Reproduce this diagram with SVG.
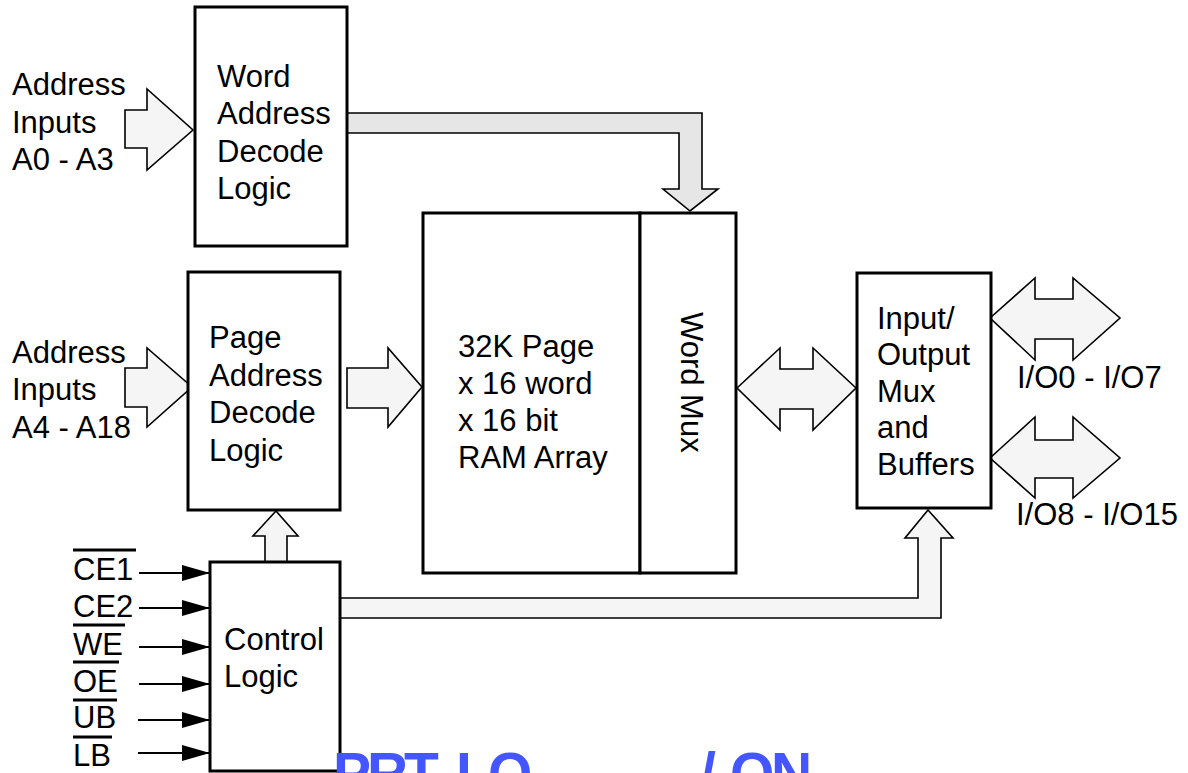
<svg xmlns="http://www.w3.org/2000/svg" width="1188" height="773" viewBox="0 0 1188 773">
<defs>
<style>
.box{fill:#fff;stroke:#000;stroke-width:3}
.bus{fill:#f5f5f5;stroke:#000;stroke-width:1.6;stroke-linejoin:miter}
.bus2{fill:#e6e6e6;stroke:#000;stroke-width:1.6}
.sig{stroke:#000;stroke-width:2;fill:none}
.ov{stroke:#000;stroke-width:3}
text{font-family:"Liberation Sans",Arial,sans-serif;font-size:31px;fill:#000}
.wm{font-family:"Liberation Sans",Arial,sans-serif;font-weight:bold;font-size:57px;fill:#4356ff}
</style>
<marker id="ah" markerWidth="28" markerHeight="16" refX="28" refY="8" orient="auto" markerUnits="userSpaceOnUse">
<path d="M0,0 L28,8 L0,16 Z" fill="#000"/>
</marker>
</defs>
<rect width="1188" height="773" fill="#fff"/>

<g id="connectors">
<polygon class="bus" points="125,110 147,110 147,89 193,130 147,170 147,148 125,148"/>
<polygon class="bus" points="125,368 147,368 147,348 192,387 147,427 147,407 125,407"/>
<polygon class="bus" points="347,368 388,368 388,348 422,387 388,427 388,408 347,408"/>
<polygon class="bus2" points="347,113 702,113 702,189 718,189 690,211 663,189 679,189 679,133 347,133"/>
<polygon class="bus" points="737,388 780,348 780,369 813,369 813,348 856,388 813,430 813,409 780,409 780,430"/>
<polygon class="bus" points="990,318 1035,278 1035,299 1073,299 1073,278 1120,318 1073,360 1073,339 1035,339 1035,360"/>
<polygon class="bus" points="990,458 1035,417 1035,440 1073,440 1073,417 1120,458 1073,498 1073,478 1035,478 1035,498"/>
<polygon class="bus" points="265,562 265,536 253,536 276,511 298,536 287,536 287,562"/>
<polygon class="bus" points="340,598 918,598 918,538 905,538 928,510 953,538 941,538 941,618 340,618"/>
<line class="sig" x1="139" y1="573" x2="210" y2="573" marker-end="url(#ah)"/>
<line class="sig" x1="139" y1="608" x2="210" y2="608" marker-end="url(#ah)"/>
<line class="sig" x1="139" y1="647" x2="210" y2="647" marker-end="url(#ah)"/>
<line class="sig" x1="139" y1="684" x2="210" y2="684" marker-end="url(#ah)"/>
<line class="sig" x1="138" y1="720" x2="210" y2="720" marker-end="url(#ah)"/>
<line class="sig" x1="138" y1="753" x2="210" y2="753" marker-end="url(#ah)"/>
</g>

<g id="inputs-a0-a3">
<text x="12" y="95">Address</text>
<text x="12" y="133">Inputs</text>
<text x="12" y="170">A0 - A3</text>
</g>
<g id="inputs-a4-a18">
<text x="12" y="363">Address</text>
<text x="12" y="400">Inputs</text>
<text x="12" y="438">A4 - A18</text>
</g>

<g id="word-decode">
<rect class="box" x="195" y="7" width="152" height="239"/>
<text x="217" y="87">Word</text>
<text x="217" y="124">Address</text>
<text x="217" y="162">Decode</text>
<text x="217" y="199">Logic</text>
</g>

<g id="page-decode">
<rect class="box" x="188" y="272" width="152" height="238"/>
<text x="209" y="348">Page</text>
<text x="209" y="386">Address</text>
<text x="209" y="423">Decode</text>
<text x="209" y="461">Logic</text>
</g>

<g id="ram-array">
<rect class="box" x="423" y="213" width="217" height="360"/>
<text x="458" y="357">32K Page</text>
<text x="458" y="394">x 16 word</text>
<text x="458" y="431">x 16 bit</text>
<text x="458" y="468">RAM Array</text>
</g>

<g id="word-mux">
<rect class="box" x="640" y="213" width="96" height="360"/>
<text transform="translate(681,312) rotate(90)">Word Mux</text>
</g>

<g id="io-mux">
<rect class="box" x="857" y="273" width="134" height="235"/>
<text x="877" y="329">Input/</text>
<text x="877" y="365">Output</text>
<text x="877" y="402">Mux</text>
<text x="877" y="438">and</text>
<text x="877" y="475">Buffers</text>
</g>

<g id="io-labels">
<text x="1017" y="388">I/O0 - I/O7</text>
<text x="1016" y="525">I/O8 - I/O15</text>
</g>

<g id="control-logic">
<rect class="box" x="210" y="562" width="130" height="209"/>
<text x="224" y="650">Control</text>
<text x="224" y="687">Logic</text>
</g>

<g id="control-signals">
<text x="73" y="580">CE1</text>
<line class="ov" x1="73" y1="550" x2="136" y2="550"/>
<text x="73" y="617">CE2</text>
<text x="73" y="655">WE</text>
<line class="ov" x1="73" y1="625" x2="125" y2="625"/>
<text x="73" y="692">OE</text>
<line class="ov" x1="73" y1="662" x2="119" y2="662"/>
<text x="73" y="728">UB</text>
<line class="ov" x1="73" y1="700" x2="117" y2="700"/>
<text x="73" y="766">LB</text>
<line class="ov" x1="73" y1="737" x2="112" y2="737"/>
</g>

<g id="watermark">
<text class="wm"><tspan x="333" y="793">P</tspan><tspan x="367" y="793">R</tspan><tspan x="404" y="793">T</tspan><tspan x="456" y="793">I</tspan><tspan x="488" y="793">O</tspan><tspan x="700" y="793">/</tspan><tspan x="730" y="793">O</tspan><tspan x="771" y="793">N</tspan></text>
</g>
</svg>
